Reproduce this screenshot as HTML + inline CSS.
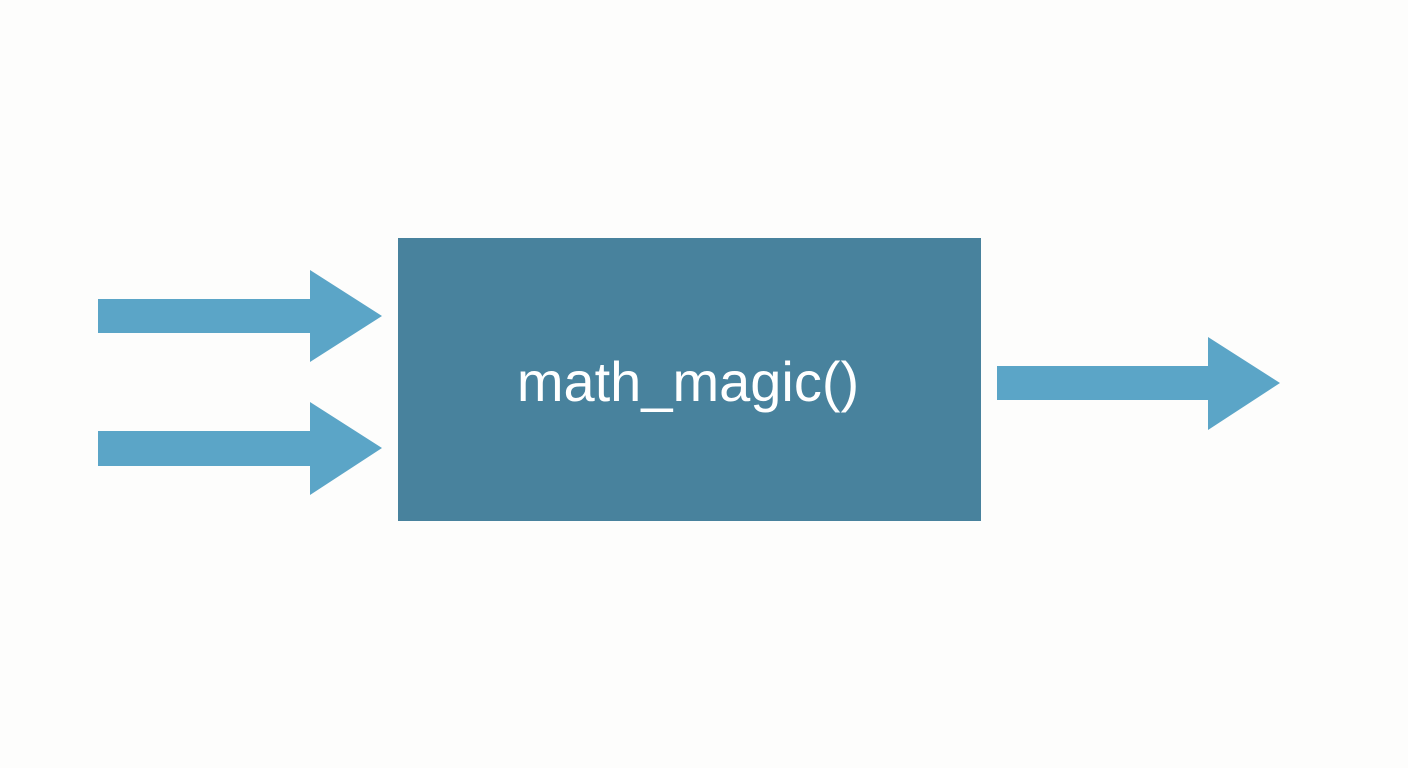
<!DOCTYPE html>
<html><head><style>
html,body{margin:0;padding:0;background:#fdfdfc;}
svg{display:block;}
</style></head><body>
<svg width="1408" height="768" viewBox="0 0 1408 768" xmlns="http://www.w3.org/2000/svg">
<rect width="1408" height="768" fill="#fdfdfc"/>
<rect x="398" y="238" width="583" height="283" fill="#48829d"/>
<text x="688" y="401" font-family="Liberation Sans, sans-serif" font-size="56" fill="#ffffff" text-anchor="middle">math_magic()</text>
<polygon points="98,299 310,299 310,270 382,316 310,362 310,333 98,333" fill="#5ba5c7"/>
<polygon points="98,431 310,431 310,402 382,448 310,495 310,466 98,466" fill="#5ba5c7"/>
<polygon points="997,366 1208,366 1208,337 1280,383 1208,430 1208,400 997,400" fill="#5ba5c7"/>
</svg>
</body></html>
